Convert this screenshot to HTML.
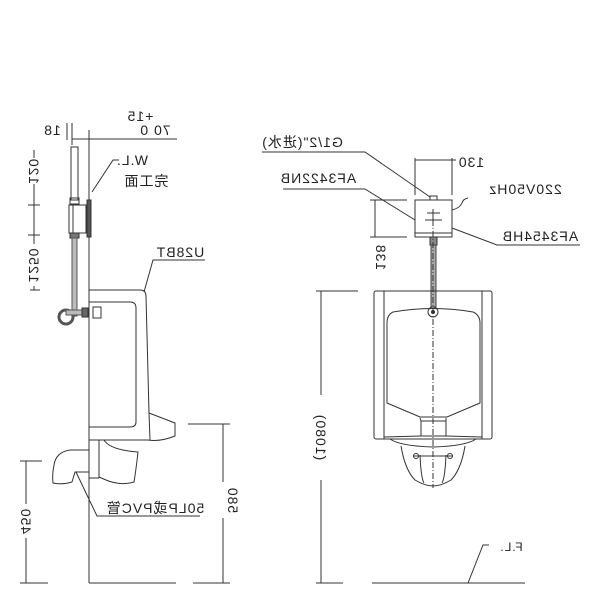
<!DOCTYPE html>
<html><head><meta charset="utf-8"><style>
html,body{margin:0;padding:0;background:#fff;}
svg{display:block;}
text{font-family:"Liberation Sans","Noto Sans CJK SC",sans-serif;font-size:14px;letter-spacing:1px;fill:#222;}
</style></head><body>
<svg width="600" height="600" viewBox="0 0 600 600" xmlns="http://www.w3.org/2000/svg" fill="none" stroke="#333" stroke-width="1">
<!-- ===== LEFT SIDE VIEW ===== -->
<line x1="89" y1="130" x2="89" y2="583"/>
<line x1="72" y1="139" x2="177" y2="139"/>
<line x1="72" y1="123" x2="72" y2="145"/>
<line x1="67" y1="123" x2="67" y2="140"/>
<text transform="translate(140,121) scale(-1,1)" text-anchor="middle" stroke="none">+15</text>
<text transform="translate(155,135) scale(-1,1)" text-anchor="middle" stroke="none">70  0</text>
<text transform="translate(52,135) scale(-1,1)" text-anchor="middle" stroke="none">18</text>
<rect x="71" y="147" width="7" height="53"/>
<rect x="70" y="198" width="9" height="6"/>
<rect x="69" y="205" width="17" height="28"/>
<line x1="73" y1="205" x2="73" y2="233"/>
<rect x="87" y="200" width="4" height="37" fill="#555"/>
<rect x="70" y="233" width="9" height="5" fill="#777"/>
<rect x="72" y="238" width="5" height="78" fill="#bbb" stroke="#555"/>
<circle cx="66" cy="317" r="7" stroke="#555" stroke-width="3"/>
<rect x="66" y="310" width="16" height="5" fill="#bbb" stroke="#555"/>
<rect x="82" y="308" width="6" height="9" fill="#666"/>
<rect x="93" y="307" width="8" height="11"/>
<line x1="34" y1="150" x2="34" y2="158"/>
<line x1="34" y1="184" x2="34" y2="244"/>
<line x1="34" y1="286" x2="34" y2="290"/>
<line x1="28" y1="205" x2="40" y2="205"/>
<line x1="28" y1="235" x2="40" y2="235"/>
<line x1="30" y1="290" x2="40" y2="290"/>
<text transform="translate(29,171) scale(-1,1) rotate(-90)" text-anchor="middle" stroke="none">120</text>
<text transform="translate(29,265) scale(-1,1) rotate(-90)" text-anchor="middle" stroke="none">1250</text>
<polyline points="92,192 113,160 119,160"/>
<text transform="translate(132,165) scale(-1,1)" text-anchor="middle" stroke="none">W.L.</text>
<text transform="translate(146,186) scale(-1,1)" text-anchor="middle" stroke="none">完工面</text>
<text transform="translate(180,257) scale(-1,1)" text-anchor="middle" stroke="none">U28BT</text>
<polyline points="205,260 153,260 144,292"/>
<path d="M89,290 H140 Q146,290 146,296 L149,413 L175,423 L175,436 Q160,442 148,440 H89"/>
<path d="M89,302 H130 Q136,302 136,308 V422 Q136,427 130,427 H89"/>
<line x1="149" y1="413" x2="150" y2="440"/>
<line x1="99" y1="440" x2="99" y2="478"/>
<line x1="89" y1="478" x2="99" y2="478"/>
<path d="M104,440 Q110,450 138,452 Q136,470 134,482 Q120,486 106,480 L99,477"/>
<path d="M89,450 H70 Q56,452 54,465 Q52,475 53,483 Q62,485 72,482 L75,472 H89"/>
<text transform="translate(155,513) scale(-1,1)" text-anchor="middle" stroke="none">50LP或PVC管</text>
<polyline points="200,516 97,516 76,472"/>
<line x1="26" y1="461" x2="26" y2="504"/>
<line x1="26" y1="538" x2="26" y2="583"/>
<line x1="20" y1="461" x2="42" y2="461"/>
<line x1="20" y1="583" x2="48" y2="583"/>
<text transform="translate(21,521) scale(-1,1) rotate(-90)" text-anchor="middle" stroke="none">450</text>
<line x1="223" y1="424" x2="223" y2="482"/>
<line x1="223" y1="518" x2="223" y2="583"/>
<line x1="188" y1="424" x2="230" y2="424"/>
<line x1="193" y1="583" x2="230" y2="583"/>
<text transform="translate(228,500) scale(-1,1) rotate(-90)" text-anchor="middle" stroke="none">580</text>
<line x1="89" y1="583" x2="176" y2="583"/>

<!-- ===== RIGHT FRONT VIEW ===== -->
<text transform="translate(302,147) scale(-1,1)" text-anchor="middle" stroke="none">G1/2"(进水)</text>
<polyline points="262,152 365,152 430,197"/>
<text transform="translate(318,183) scale(-1,1)" text-anchor="middle" stroke="none">AF3422NB</text>
<polyline points="283,189 365,189 415,220"/>
<text transform="translate(525,194) scale(-1,1)" text-anchor="middle" stroke="none">220V50Hz</text>
<text transform="translate(540,241) scale(-1,1)" text-anchor="middle" stroke="none">AF3454HB</text>
<polyline points="580,245 497,245 452,228"/>
<line x1="415" y1="158" x2="415" y2="195"/>
<line x1="452" y1="158" x2="452" y2="195"/>
<line x1="415" y1="160" x2="456" y2="160"/>
<text transform="translate(471,167) scale(-1,1)" text-anchor="middle" stroke="none">130</text>
<line x1="370" y1="200" x2="407" y2="200"/>
<line x1="370" y1="237" x2="407" y2="237"/>
<line x1="375" y1="200" x2="375" y2="237"/>
<text transform="translate(376,257) scale(-1,1) rotate(-90)" text-anchor="middle" stroke="none">138</text>
<rect x="430" y="196" width="7" height="4"/>
<rect x="415" y="200" width="37" height="33"/>
<rect x="415" y="233" width="37" height="4"/>
<line x1="427" y1="213" x2="440" y2="213"/>
<line x1="425" y1="220" x2="442" y2="220"/>
<line x1="433" y1="209" x2="433" y2="224"/>
<path d="M452,210 Q460,208 462,203 Q463,199 468,198"/>
<rect x="430" y="237" width="7" height="8" fill="#888"/>
<rect x="431" y="245" width="5" height="62" fill="#aaa" stroke="#444"/>
<circle cx="433" cy="312" r="5"/>
<circle cx="433" cy="312" r="1.5" fill="#333"/>
<line x1="433" y1="220" x2="433" y2="488" stroke-dasharray="6,2,1,2"/>
<rect x="374" y="291" width="118" height="148" rx="2"/>
<line x1="384" y1="291" x2="384" y2="439"/>
<line x1="482" y1="291" x2="482" y2="439"/>
<path d="M393,312 Q433,305 473,312 Q480,315 480,323 V403 L447,417 H420 L387,403 V323 Q387,315 393,312 Z"/>
<rect x="421" y="421" width="25" height="15"/>
<path d="M420,418 L421,421 M446,418 L446,421"/>
<path d="M384,437 L421,436 M446,436 L482,437"/>
<path d="M390,439 Q400,446 433,447 Q466,446 476,439"/>
<path d="M401,446 Q405,470 415,480 Q425,486 433,486 Q441,486 451,480 Q461,470 465,446"/>
<path d="M420,455 Q421,478 424,483 M446,455 Q445,478 442,483"/>
<line x1="413" y1="456" x2="453" y2="456"/>
<circle cx="416" cy="456" r="2.5"/>
<circle cx="450" cy="456" r="2.5"/>
<line x1="316" y1="291" x2="358" y2="291"/>
<line x1="316" y1="583" x2="343" y2="583"/>
<line x1="321" y1="291" x2="321" y2="395"/>
<line x1="321" y1="480" x2="321" y2="583"/>
<text transform="translate(316,437) scale(-1,1) rotate(-90)" text-anchor="middle" stroke="none">(1080)</text>
<line x1="372" y1="583" x2="525" y2="583"/>
<polyline points="468,583 483,545 489,545"/>
<text transform="translate(511,551) scale(-1,1)" text-anchor="middle" stroke="none" style="font-size:12px">F.L.</text>
</svg>
</body></html>
